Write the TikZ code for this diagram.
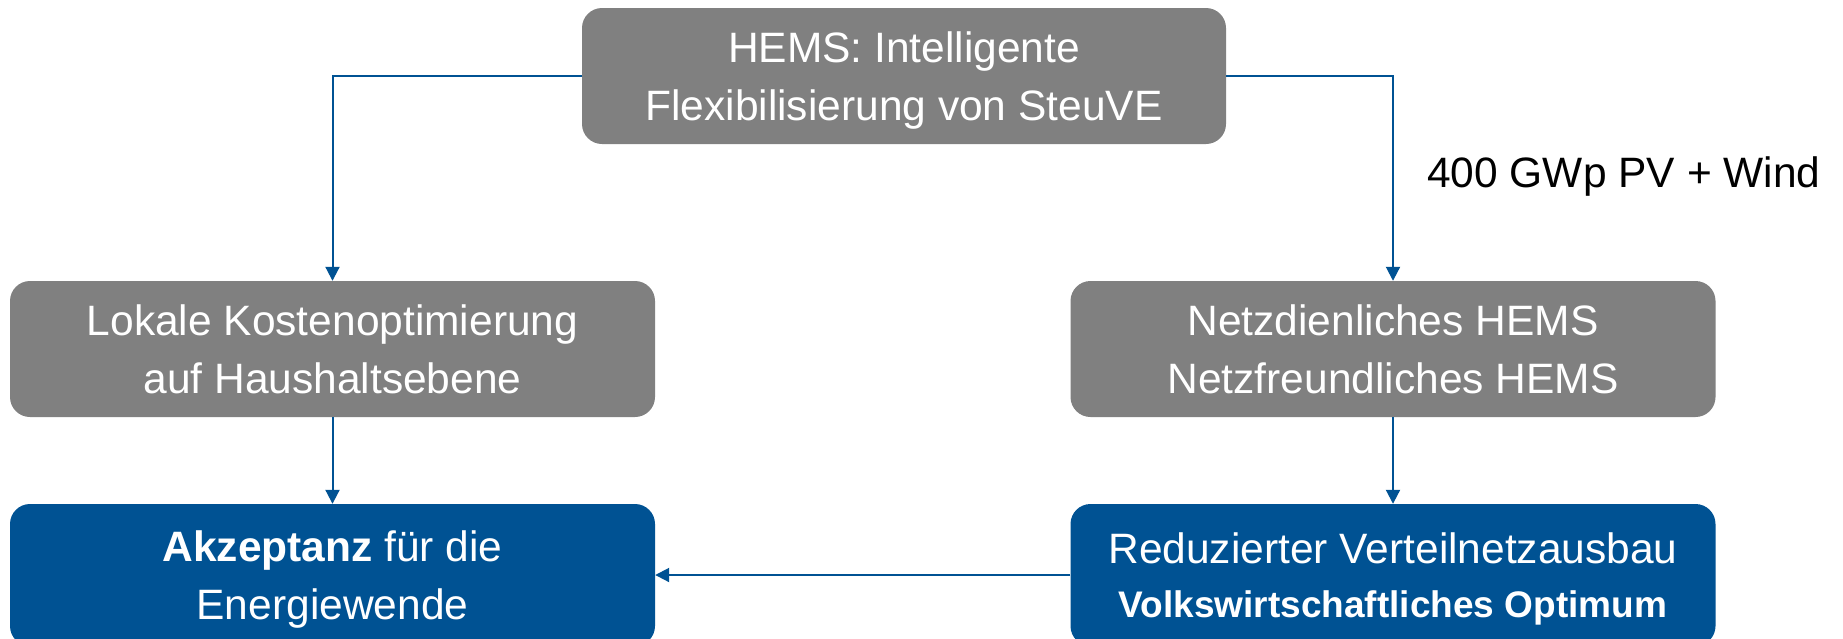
\documentclass[tikz,border=0pt]{standalone}
\usepackage{fontspec}
\setmainfont{Liberation Sans}
\usetikzlibrary{arrows.meta}
\definecolor{boxgray}{HTML}{808080}
\definecolor{boxblue}{HTML}{005293}
\tikzset{
  box/.style={rounded corners=20pt, inner sep=0pt, minimum width=645pt, minimum height=136pt,
    text=white, align=center, font=\fontsize{42.5}{58}\selectfont, text height=89pt, text depth=0pt},
  graybox/.style={box, fill=boxgray},
  bluebox/.style={box, fill=boxblue, minimum height=142pt},
  arr/.style={draw=boxblue, line width=2pt, -{Triangle[width=14pt,length=14pt]}}
}
\begin{document}
\begin{tikzpicture}[x=1pt,y=-1pt]
\useasboundingbox (0,0) rectangle (1843,638);
\node[graybox, minimum width=644pt] (top) at (904,76) {HEMS: Intelligente\\Flexibilisierung von SteuVE};
\node[graybox] (lm) at (332.5,349) {Lokale Kostenoptimierung\\auf Haushaltsebene};
\node[graybox] (rm) at (1393,349) {Netzdienliches HEMS\\Netzfreundliches HEMS};
\node[bluebox] (lb) at (332.5,575) {\textbf{Akzeptanz} für die\\Energiewende};
\node[bluebox, text height=84pt] (rb) at (1393,575) {Reduzierter Verteilnetzausbau\\[-4pt]{\fontsize{37}{54}\selectfont\bfseries Volkswirtschaftliches Optimum}};
\node[anchor=base west, inner sep=0pt, font=\fontsize{42.5}{58}\selectfont] (lbl) at (1427,187) {400 GWp PV + Wind};
\draw[arr] (top.west) -| (lm.north);
\draw[arr] (top.east) -| (rm.north);
\draw[arr] (lm.south) -- (lb.north);
\draw[arr] (rm.south) -- (rb.north);
\draw[arr] (rb.west) -- (lb.east);
\end{tikzpicture}
\end{document}
